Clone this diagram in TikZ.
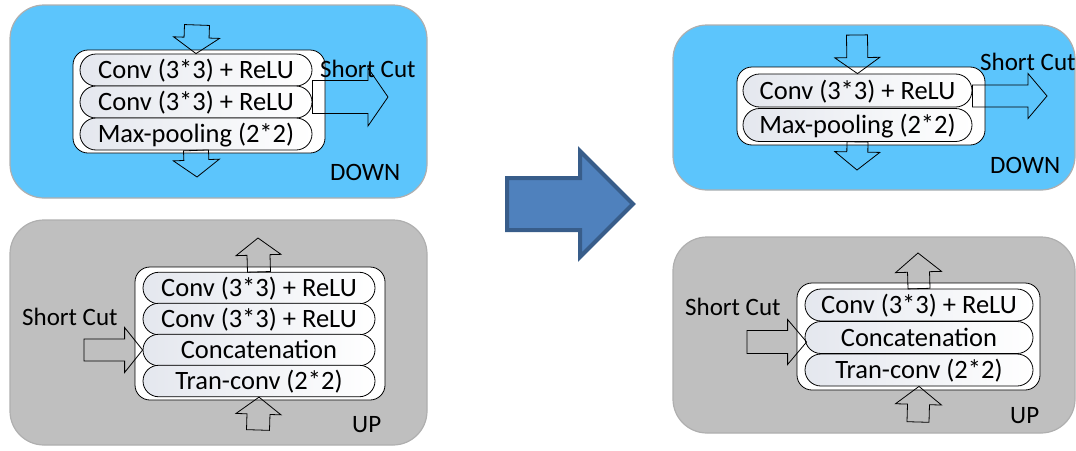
\documentclass[tikz,border=0pt]{standalone}
\usepackage{fontspec}
\setmainfont{Carlito}
\usetikzlibrary{calc,shapes.misc}

\definecolor{downblue}{RGB}{92,197,252}
\definecolor{upgray}{RGB}{191,191,191}
\definecolor{paneledge}{RGB}{175,175,175}
\definecolor{pillgray}{RGB}{228,231,238}
\definecolor{bigfill}{RGB}{79,129,189}
\definecolor{bigline}{RGB}{56,93,138}

% Outlined block arrow from #2 to #3 (tip): shaft half width #4,
% head half width #5, head length #6
\newcommand{\blockarrow}[6][]{%
  \coordinate (ba-h) at ($#3!#6!#2$);
  \draw[blockarrow line,#1]
    ($#2!#4!90:#3$) -- ($(ba-h)!#4!90:#3$) -- ($(ba-h)!#5!90:#3$) -- #3
    -- ($(ba-h)!#5!-90:#3$) -- ($(ba-h)!#4!-90:#3$) -- ($#2!#4!-90:#3$) -- cycle;}

\tikzset{
  textfont/.style={font=\fontsize{25}{30}\selectfont},
  rowfont/.style={font=\fontsize{26.5}{31}\selectfont},
  panel/.style={draw=paneledge, line width=1.2pt, rounded corners=34pt,
    inner sep=0pt},
  layerbox/.style={draw=black, fill=white, line width=0.8pt,
    rounded corners=15pt, inner sep=0pt},
  pill/.style={rounded rectangle, draw=black, line width=0.8pt,
    left color=pillgray, right color=white, inner sep=0pt,
    rowfont, text height=21pt, text depth=4pt},
  blockarrow line/.style={draw=black, line width=0.8pt, line join=miter},
  tag/.style={textfont, inner sep=0pt, anchor=base west},
}

\begin{document}
\begin{tikzpicture}[x=1pt,y=-1pt]
\useasboundingbox (0,0) rectangle (1076,450);

% ---------- panels ----------
\node[panel, fill=downblue, minimum width=417pt, minimum height=193pt] (downL) at (218.5,101.5) {};
\node[panel, fill=upgray,   minimum width=417pt, minimum height=225pt] (upL)   at (218.5,332.5) {};
\node[panel, fill=downblue, minimum width=402pt, minimum height=165pt] (downR) at (874,107.5) {};
\node[panel, fill=upgray,   minimum width=402pt, minimum height=196pt] (upR)   at (874,335) {};

% ---------- left DOWN block ----------
\node[layerbox, minimum width=252pt, minimum height=103pt] (bxDL) at (199,101.5) {};
\node[pill, minimum width=232pt, minimum height=32pt] (dl1) at (196,70)  {Conv (3*3) + ReLU};
\node[pill, minimum width=232pt, minimum height=32pt] (dl2) at (196,102) {Conv (3*3) + ReLU};
\node[pill, minimum width=232pt, minimum height=32pt] (dl3) at (196,134) {Max-pooling (2*2)};

\coordinate (dlIn)  at (197,25);
\coordinate (dlOut) at (197,177);
\coordinate (dlSc)  at ($(dl2.east)+(0,-5)$);
\coordinate (dlScT) at (388,97);
\blockarrow{(dlIn)}{(dl1.north)}{12.5pt}{23pt}{16pt}
\blockarrow{(dl3.south)}{(dlOut)}{12.5pt}{23pt}{17pt}
\blockarrow{(dlSc)}{(dlScT)}{16.5pt}{29pt}{20pt}

\node[tag] (dlShort) at (320,77)  {Short Cut};
\node[tag] (dlName)  at (330,180) {DOWN};

% ---------- left UP block ----------
\node[layerbox, minimum width=250pt, minimum height=133pt] (bxUL) at (260,333.5) {};
\node[pill, minimum width=232pt, minimum height=31.5pt] (ul1) at (259,288) {Conv (3*3) + ReLU};
\node[pill, minimum width=232pt, minimum height=31.5pt] (ul2) at (259,319) {Conv (3*3) + ReLU};
\node[pill, minimum width=232pt, minimum height=31.5pt] (ul3) at (259,350) {Concatenation};
\node[pill, minimum width=232pt, minimum height=31.5pt] (ul4) at (259,381) {Tran-conv (2*2)};

\coordinate (ulOut) at (258,238);
\coordinate (ulIn)  at (258,430);
\coordinate (ulSc)  at (84,350);
\blockarrow{(ul1.north)}{(ulOut)}{11.5pt}{22.5pt}{17pt}
\blockarrow{(ulIn)}{(ul4.south)}{11.5pt}{22.5pt}{17pt}
\blockarrow{(ulSc)}{(ul3.west)}{11pt}{22.5pt}{18pt}

\node[tag] (ulShort) at (22,325)  {Short Cut};
\node[tag] (ulName)  at (352,432) {UP};

% ---------- transition arrow ----------
\coordinate (bigS) at (507,204);
\coordinate (bigT) at (633,204);
\blockarrow[draw=bigline, fill=bigfill, line width=4pt]{(bigS)}{(bigT)}{26pt}{53pt}{53pt}

% ---------- right DOWN block ----------
\node[layerbox, minimum width=248pt, minimum height=78pt] (bxDR) at (861,106) {};
\node[pill, minimum width=229pt, minimum height=33pt] (dr1) at (857.5,90.5) {Conv (3*3) + ReLU};
\node[pill, minimum width=229pt, minimum height=33pt] (dr2) at (857.5,125)  {Max-pooling (2*2)};

\coordinate (drIn)  at (857,35);
\coordinate (drOut) at (857,170);
\coordinate (drSc)  at ($(dr1.east)+(0,5.5)$);
\coordinate (drScT) at (1047,96);
\blockarrow{(drIn)}{(dr1.north)}{10.5pt}{22.5pt}{16pt}
\blockarrow{(dr2.south)}{(drOut)}{10.5pt}{22.5pt}{18pt}
\blockarrow{(drSc)}{(drScT)}{11pt}{22.5pt}{19pt}

\node[tag] (drShort) at (980,70)  {Short Cut};
\node[tag] (drName)  at (990,173) {DOWN};

% ---------- right UP block ----------
\node[layerbox, minimum width=243pt, minimum height=107pt] (bxUR) at (918.5,336.5) {};
\node[pill, minimum width=228pt, minimum height=32pt] (ur1) at (919,305)   {Conv (3*3) + ReLU};
\node[pill, minimum width=228pt, minimum height=32pt] (ur2) at (919,337.5) {Concatenation};
\node[pill, minimum width=228pt, minimum height=32pt] (ur3) at (919,370)   {Tran-conv (2*2)};

\coordinate (urOut) at (918,253);
\coordinate (urIn)  at (918,422);
\coordinate (urSc)  at (747,342);
\coordinate (urScT) at ($(ur2.west)+(2,4.5)$);
\blockarrow{(ur1.north)}{(urOut)}{11pt}{23pt}{19pt}
\blockarrow{(urIn)}{(ur3.south)}{11pt}{23pt}{18pt}
\blockarrow{(urSc)}{(urScT)}{11.5pt}{22.5pt}{19pt}

\node[tag] (urShort) at (685,315)  {Short Cut};
\node[tag] (urName)  at (1010,423) {UP};
\end{tikzpicture}
\end{document}
